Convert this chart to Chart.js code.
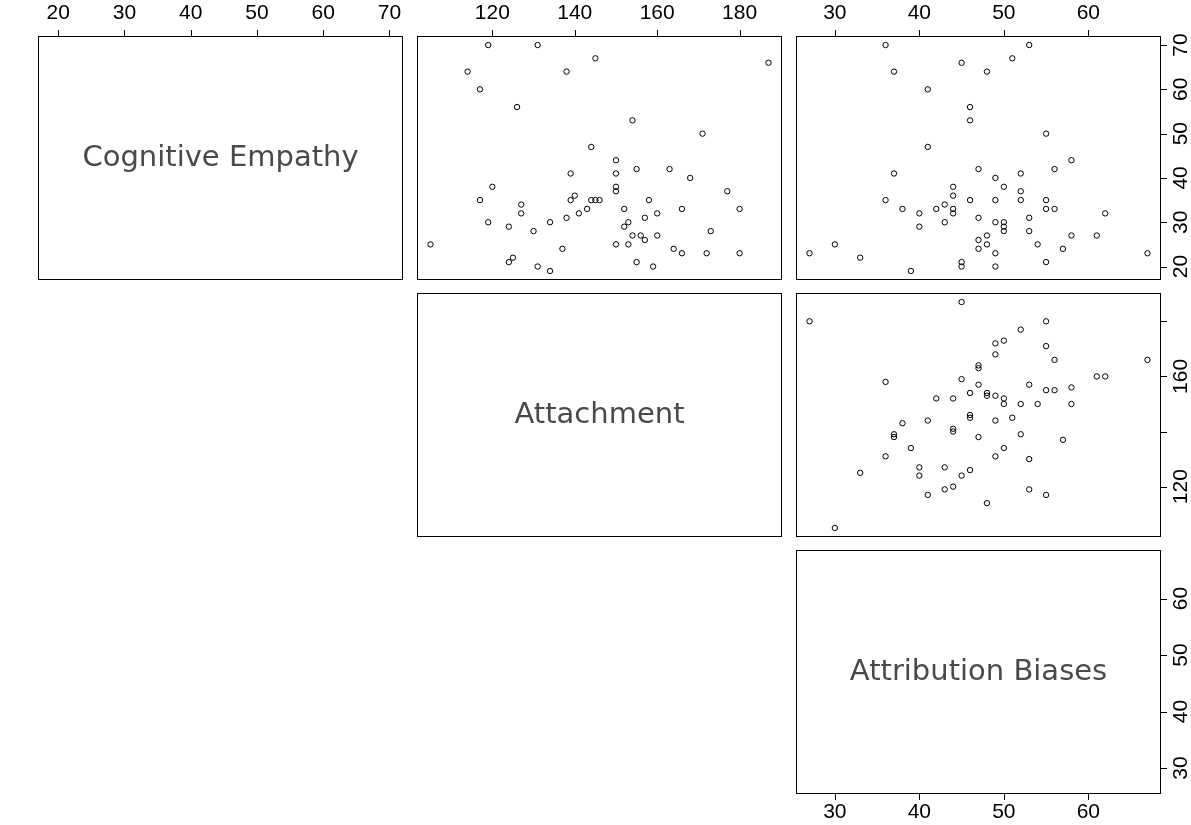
<!DOCTYPE html>
<html>
<head>
<meta charset="utf-8">
<script src="https://cdn.jsdelivr.net/npm/chart.js@4.4.1/dist/chart.umd.min.js"></script>
<style>
  html, body { margin: 0; padding: 0; background: #fff; }
  #wrap { position: relative; width: 1191px; height: 825px; overflow: hidden; }
  #wrap canvas { position: absolute; left: 0; top: 0; }
</style>
</head>
<body>
<div id="wrap"></div>
<script>
'use strict';

// ===== 데이터 =====
const varNames = ['Cognitive Empathy', 'Attachment', 'Attribution Biases'];

// observed min / max of each variable (axes get R's 4% extension)
const empathyRange = [19, 70];
const attachRange = [105, 187];
const attribRange = [27, 67];

const empathyTicks = [20, 30, 40, 50, 60, 70];
const attachTicks = [120, 140, 160, 180];
const attachRightLabels = [120, 160];   // R drops the labels that would collide
const attribTicks = [30, 40, 50, 60];

// panel row 1, col 2 : Attachment (x) vs Cognitive Empathy (y)
const empAttachX = [119, 131, 145, 114, 138, 117, 126, 144, 139, 120, 117, 127, 127, 139, 140, 144, 145, 146,
  143, 141, 138, 119, 134, 124, 130, 105, 137, 125, 124, 131, 134,
  187, 154, 171, 150, 150, 155, 163, 168, 150, 150, 177, 158, 152, 166, 180, 160, 157, 153, 152, 154, 156,
  157, 160, 173, 150, 153, 164, 166, 172, 180, 155, 159];
const empAttachY = [70, 70, 67, 64, 64, 60, 56, 47, 41, 38, 35, 34, 32, 35, 36, 35, 35, 35,
  33, 32, 31, 30, 30, 29, 28, 25, 24, 22, 21, 20, 19,
  66, 53, 50, 44, 41, 42, 42, 40, 38, 37, 37, 35, 33, 33, 33, 32, 31, 30, 29, 27, 27,
  26, 27, 28, 25, 25, 24, 23, 23, 23, 21, 20];

// panel row 1, col 3 : Attribution Biases (x) vs Cognitive Empathy (y)
const empAttribX = [36, 45, 37, 41, 46, 46, 41, 47, 37, 44, 44, 36, 46, 38, 42, 43, 44, 44, 40, 40, 43, 47,
  47, 47, 27, 30, 33, 39, 45, 45,
  53, 51, 48, 55, 58, 52, 56, 49, 50, 52, 49, 52, 55, 55, 56, 53, 62, 49, 50, 50, 50, 53, 48, 48, 49, 54,
  57, 58, 61, 67, 55, 49];
const empAttribY = [70, 66, 64, 60, 56, 53, 47, 42, 41, 38, 36, 35, 35, 33, 33, 34, 33, 32, 32, 29, 30, 31,
  26, 24, 23, 25, 22, 19, 21, 20,
  70, 67, 64, 50, 44, 41, 42, 40, 38, 37, 35, 35, 35, 33, 33, 31, 32, 30, 30, 29, 28, 28, 27, 25, 23, 25,
  24, 27, 27, 23, 21, 20];

// panel row 2, col 3 : Attribution Biases (x) vs Attachment (y)
const attachAttribX = [27, 45, 30, 36, 47, 47, 45, 47, 46, 42, 44, 46, 46, 41, 38, 44, 44, 37, 37, 47, 39, 36,
  40, 43, 40, 45, 46, 33, 44, 43, 41,
  55, 52, 50, 49, 55, 49, 56, 67, 61, 62, 53, 55, 56, 58, 48, 48, 49, 50, 50, 52, 54, 58, 51, 49, 52, 57,
  50, 49, 53, 53, 55, 48];
const attachAttribY = [180, 187, 105, 158, 164, 163, 159, 157, 154, 152, 152, 146, 145, 144, 143, 141, 140, 139,
  138, 138, 134, 131, 127, 127, 124, 124, 126, 125, 120, 119, 117,
  180, 177, 173, 172, 171, 168, 166, 166, 160, 160, 157, 155, 155, 156, 154, 153, 153, 152, 150, 150, 150,
  150, 145, 144, 139, 137, 134, 131, 130, 119, 117, 114];

// ===== 레이아웃 =====
const W = 1191, H = 825;
const colLeft = [38, 417, 796];
const rowTop = [36, 293, 550];
const boxW = 365, boxH = 244;
const TOP_AXIS = 36, RIGHT_AXIS = 30, BOTTOM_AXIS = 31;
const TICK_LEN = 6;
const TICK_FONT = { family: "'Liberation Sans', Arial, sans-serif", size: 21 };

function padRange(r) {
  const d = (r[1] - r[0]) * 0.04;
  return { min: r[0] - d, max: r[1] + d };
}

function makeScale(position, range, ticks, shown) {
  const r = padRange(range);
  return {
    type: 'linear',
    position,
    min: r.min,
    max: r.max,
    display: shown,
    afterBuildTicks(scale) {
      scale.ticks = ticks.map(v => ({ value: v }));
    },
    afterFit(scale) {
      if (!shown) return;
      if (position === 'top') scale.height = TOP_AXIS;
      else if (position === 'bottom') scale.height = BOTTOM_AXIS;
      else if (position === 'right') scale.width = RIGHT_AXIS;
    },
    grid: { display: false, drawOnChartArea: false, drawTicks: false },
    border: { display: false },
    ticks: {
      display: position !== 'right',
      color: '#000',
      font: TICK_FONT,
      padding: position === 'top' ? 10 : 6,
      autoSkip: false,
      maxRotation: 0,
      minRotation: 0,
      callback: v => String(v),
    },
  };
}

// 박스, 눈금선, 대각선 라벨, 오른쪽 회전 눈금 라벨
const panelPlugin = {
  id: 'panel',
  afterDraw(chart, args, opts) {
    const { ctx, chartArea: a } = chart;
    const xs = chart.scales.x;
    const ys = chart.scales.y;
    ctx.save();
    ctx.strokeStyle = '#000';
    ctx.lineWidth = 1;
    ctx.strokeRect(Math.round(a.left) + 0.5, Math.round(a.top) + 0.5,
      Math.round(a.width) - 1, Math.round(a.height) - 1);

    // tick marks pointing outward
    ctx.beginPath();
    if (opts.top || opts.bottom) {
      xs.ticks.forEach(t => {
        const px = Math.round(xs.getPixelForValue(t.value)) + 0.5;
        if (opts.top) {
          ctx.moveTo(px, Math.round(a.top) - TICK_LEN);
          ctx.lineTo(px, Math.round(a.top) + 1);
        } else {
          ctx.moveTo(px, Math.round(a.bottom) - 1);
          ctx.lineTo(px, Math.round(a.bottom) + TICK_LEN);
        }
      });
    }
    if (opts.right) {
      ys.ticks.forEach(t => {
        const py = Math.round(ys.getPixelForValue(t.value)) + 0.5;
        ctx.moveTo(Math.round(a.right) - 1, py);
        ctx.lineTo(Math.round(a.right) + TICK_LEN, py);
      });
    }
    ctx.stroke();

    if (opts.label) {
      ctx.fillStyle = '#4a4a4a';
      ctx.font = "29px 'DejaVu Sans', Verdana, sans-serif";
      ctx.textAlign = 'center';
      ctx.textBaseline = 'middle';
      ctx.fillText(opts.label, (a.left + a.right) / 2, (a.top + a.bottom) / 2);
    }

    if (opts.rightLabels) {
      ctx.fillStyle = '#000';
      ctx.font = `${TICK_FONT.size}px ${TICK_FONT.family}`;
      ctx.textAlign = 'center';
      ctx.textBaseline = 'alphabetic';
      opts.rightLabels.forEach(v => {
        const py = ys.getPixelForValue(v);
        ctx.save();
        ctx.translate(a.right + 26, py);
        ctx.rotate(-Math.PI / 2);
        ctx.fillText(String(v), 0, 0);
        ctx.restore();
      });
    }
    ctx.restore();
  }
};

function makePanel(row, col, cfg) {
  const canvas = document.createElement('canvas');
  canvas.width = W;
  canvas.height = H;
  document.getElementById('wrap').appendChild(canvas);

  const left = colLeft[col];
  const top = rowTop[row];
  const padding = {
    left,
    top: top - (cfg.top ? TOP_AXIS : 0),
    right: W - left - boxW - (cfg.right ? RIGHT_AXIS : 0),
    bottom: H - top - boxH - (cfg.bottom ? BOTTOM_AXIS : 0),
  };

  const points = (cfg.xs || []).map((x, i) => ({ x, y: cfg.ys[i] }));

  return new Chart(canvas.getContext('2d'), {
    type: 'scatter',
    plugins: [panelPlugin],
    data: {
      datasets: [{
        data: points,
        pointStyle: 'circle',
        pointRadius: 2.7,
        pointBorderWidth: 1,
        borderColor: '#000',
        backgroundColor: 'rgba(0,0,0,0)',
      }],
    },
    options: {
      responsive: false,
      animation: false,
      events: [],
      layout: { padding },
      plugins: {
        legend: { display: false },
        tooltip: { enabled: false },
        panel: {
          label: cfg.label,
          rightLabels: cfg.rightLabels,
          top: !!cfg.top,
          bottom: !!cfg.bottom,
          right: !!cfg.right,
        },
      },
      scales: {
        x: makeScale(cfg.bottom ? 'bottom' : 'top', cfg.xRange, cfg.xTicks, !!(cfg.top || cfg.bottom)),
        y: makeScale('right', cfg.yRange, cfg.yTicks, !!cfg.right),
      },
    },
  });
}

// row 1
makePanel(0, 0, { label: varNames[0], top: true,
  xRange: empathyRange, xTicks: empathyTicks, yRange: empathyRange, yTicks: empathyTicks });
makePanel(0, 1, { top: true, xs: empAttachX, ys: empAttachY,
  xRange: attachRange, xTicks: attachTicks, yRange: empathyRange, yTicks: empathyTicks });
makePanel(0, 2, { top: true, right: true, xs: empAttribX, ys: empAttribY, rightLabels: empathyTicks,
  xRange: attribRange, xTicks: attribTicks, yRange: empathyRange, yTicks: empathyTicks });
// row 2
makePanel(1, 1, { label: varNames[1],
  xRange: attachRange, xTicks: attachTicks, yRange: attachRange, yTicks: attachTicks });
makePanel(1, 2, { right: true, xs: attachAttribX, ys: attachAttribY, rightLabels: attachRightLabels,
  xRange: attribRange, xTicks: attribTicks, yRange: attachRange, yTicks: attachTicks });
// row 3
makePanel(2, 2, { label: varNames[2], bottom: true, right: true, rightLabels: attribTicks,
  xRange: attribRange, xTicks: attribTicks, yRange: attribRange, yTicks: attribTicks });
</script>
</body>
</html>
